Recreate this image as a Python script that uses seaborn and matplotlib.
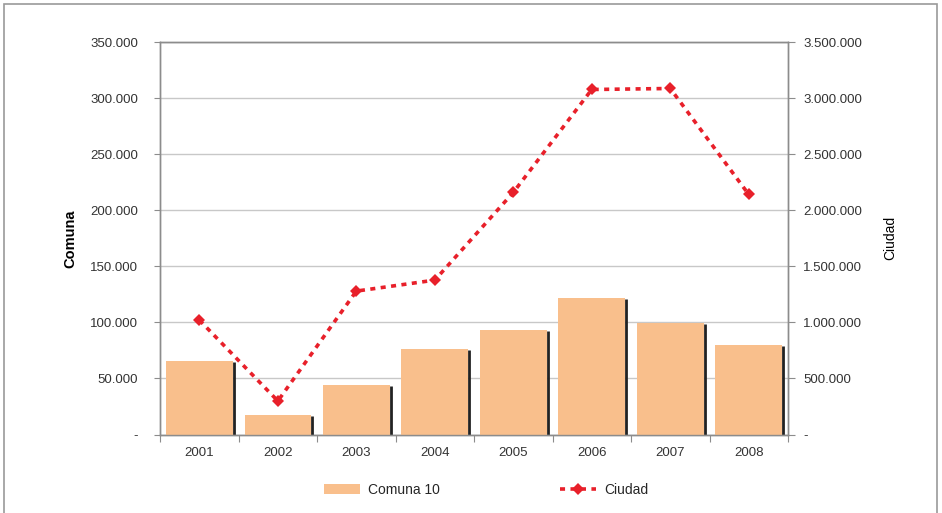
import matplotlib
matplotlib.use("Agg")
import matplotlib.pyplot as plt
from matplotlib.lines import Line2D
from matplotlib.patches import Patch, Rectangle
from matplotlib.ticker import FuncFormatter, MultipleLocator
import numpy as np
import pandas as pd
import seaborn as sns

# Data
years = ["2001", "2002", "2003", "2004", "2005", "2006", "2007", "2008"]
comuna_10 = [65800, 17400, 44100, 76200, 93100, 121900, 99600, 79800]
ciudad = [1020000, 299000, 1279000, 1377000, 2159000, 3077000, 3086000, 2141000]

sns.set_theme(style="white")
plt.rcParams["font.family"] = ["Liberation Sans", "DejaVu Sans"]

bar_color = "#F9BF8C"
line_color = "#E8202A"
grid_color = "#C8C8C8"
spine_color = "#8C8C8C"
text_color = "#333333"

df = pd.DataFrame({"year": years, "comuna": comuna_10, "ciudad": ciudad})

fig = plt.figure(figsize=(9.42, 5.13), dpi=100)
ax = fig.add_axes([0.170, 0.153, 0.6665, 0.765])

bar_width = 0.85
sns.barplot(data=df, x="year", y="comuna", color=bar_color, width=bar_width,
            saturation=1, edgecolor="none", linewidth=0, ax=ax, zorder=3)

# dark edge shadow on the right side of each bar
xs = np.arange(len(years))
ax.vlines(xs + bar_width / 2 + 0.012, 0, np.array(comuna_10) - 1200,
          color="#222222", lw=2.0, zorder=2)

ax.set_ylim(0, 350000)
ax.set_xlim(-0.5, len(years) - 0.5)
ax.yaxis.set_major_locator(MultipleLocator(50000))


def dot_fmt(v, pos):
    if abs(v) < 1e-9:
        return "-"
    return f"{int(round(v)):,}".replace(",", ".")


ax.yaxis.set_major_formatter(FuncFormatter(dot_fmt))
ax.yaxis.grid(True, color=grid_color, lw=1.0, zorder=0)
ax.set_axisbelow(True)
ax.set_xlabel("")
ax.set_ylabel("Comuna", fontsize=10.5, fontweight="bold", color="black", labelpad=9)

for s in ax.spines.values():
    s.set_visible(True)
    s.set_color(spine_color)
    s.set_linewidth(1.0)

ax.tick_params(axis="y", which="major", length=4, width=0.8, color=spine_color,
               labelsize=9.5, labelcolor=text_color, pad=12, left=True)
ax.tick_params(axis="x", which="major", length=0, labelsize=9.5,
               labelcolor=text_color, pad=9)
# small ticks between categories
ax.set_xticks(np.arange(-0.5, len(years), 1.0), minor=True)
ax.tick_params(axis="x", which="minor", length=5, width=0.8, color=spine_color,
               bottom=True)

ax2 = ax.twinx()
ax2.plot(xs, ciudad, color=line_color, lw=2.6, ls=(0, (1.4, 1.5)),
         marker="D", markersize=6.5, markeredgewidth=0, zorder=5)
ax2.set_ylim(0, 3500000)
ax2.yaxis.set_major_locator(MultipleLocator(500000))
ax2.yaxis.set_major_formatter(FuncFormatter(dot_fmt))
ax2.set_ylabel("Ciudad", fontsize=10, color="black", labelpad=15)
ax2.grid(False)
for s in ax2.spines.values():
    s.set_visible(True)
    s.set_color(spine_color)
    s.set_linewidth(1.0)
ax2.tick_params(axis="y", which="major", length=5, width=0.8, color=spine_color,
                labelsize=9.5, labelcolor=text_color, pad=6, right=True)

handles = [
    Patch(facecolor=bar_color, edgecolor="none", label="Comuna 10"),
    Line2D([0], [0], color=line_color, lw=2.6, ls=(0, (1.4, 1.5)), marker="D",
           markersize=6.5, markeredgewidth=0, label="Ciudad"),
]
fig.legend(handles=handles, loc="center", bbox_to_anchor=(0.516, 0.045), ncol=2,
           frameon=False, fontsize=10, columnspacing=8.6, handlelength=2.6,
           handleheight=0.7, handletextpad=0.6)

# outer frame
fig.patches.append(Rectangle((0.004, -0.01), 0.991, 1.002, transform=fig.transFigure,
                             fill=False, edgecolor="#9A9A9A", lw=1.2))

fig.savefig("out.png", dpi=100)
